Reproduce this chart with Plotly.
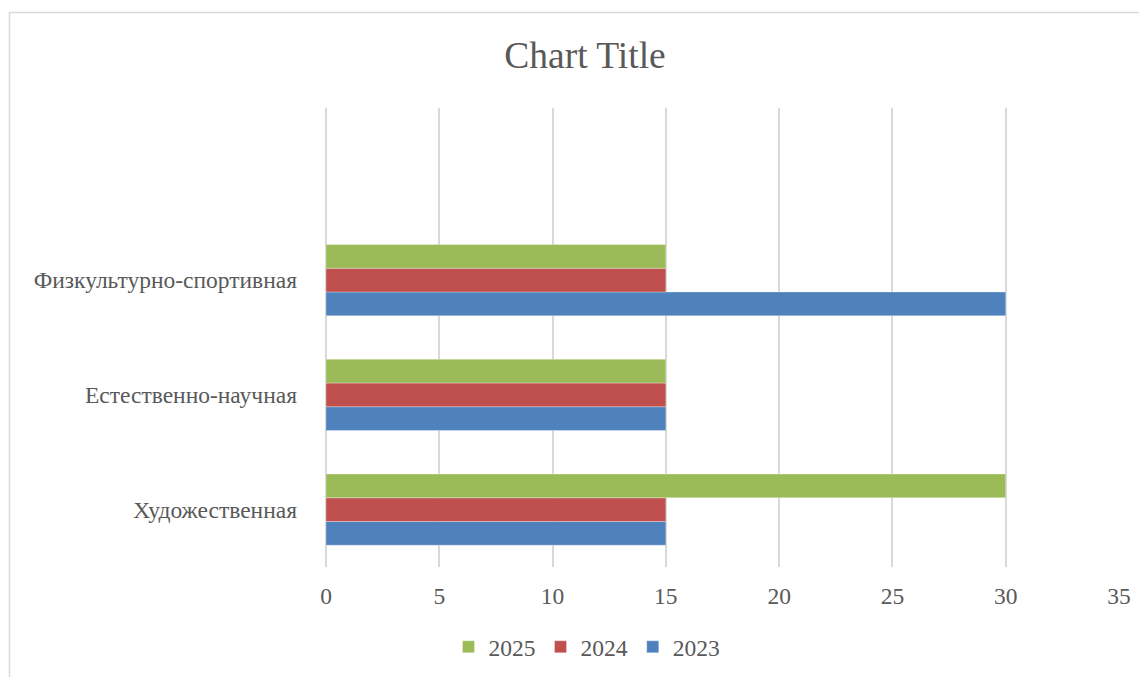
import plotly.graph_objects as go

categories = ["Художественная", "Естественно-научная", "Физкультурно-спортивная"]
series_names = ["2023", "2024", "2025"]
values_2023 = [15, 15, 30]
values_2024 = [15, 15, 15]
values_2025 = [30, 15, 15]
colors = ["#4F81BD", "#C0504D", "#9BBB59"]
x_ticks = [0, 5, 10, 15, 20, 25, 30, 35]

OFF = 8  # page body margin
W, H = 1147 - OFF, 677 - OFF
L, R, T, B = 326 - OFF, 28, 108 - OFF, 110
pw, ph = W - L - R, H - T - B

positions = list(range(len(categories)))
fig = go.Figure()
for name, vals, col in zip(series_names, [values_2023, values_2024, values_2025], colors):
    fig.add_trace(go.Bar(
        x=vals, y=positions, orientation="h", name=name,
        marker=dict(color=col, line=dict(color="rgba(255,255,255,0.5)", width=0.6)),
    ))

font_family = "Liberation Serif, Times New Roman, serif"
fig.update_layout(
    width=W, height=H,
    margin=dict(l=L, r=R, t=T, b=B, autoexpand=False),
    paper_bgcolor="white", plot_bgcolor="white",
    barmode="group", bargap=0.38, bargroupgap=0,
    font=dict(family=font_family, color="#595959", size=23.5),
    title=dict(text="Chart Title", x=(585 - OFF) / W, xanchor="center",
               y=1 - (55 - OFF) / H, yanchor="middle",
               font=dict(size=37.5, family=font_family, color="#595959")),
    legend=dict(orientation="h", x=(587 - 326) / pw, xanchor="center",
                y=(677 - 110 - 647) / ph, yanchor="middle",
                traceorder="reversed", font=dict(size=23.5),
                itemwidth=30, bgcolor="rgba(0,0,0,0)"),
    xaxis=dict(range=[0, 35], tickvals=x_ticks, showgrid=True,
               gridcolor="#D9D9D9", gridwidth=1.5, zeroline=True,
               zerolinecolor="#D9D9D9", zerolinewidth=1.5,
               showline=False, ticks="", ticklabelstandoff=12,
               tickfont=dict(size=23.5, color="#595959")),
    yaxis=dict(range=[-0.5, 3.5], tickvals=positions, ticktext=categories,
               showgrid=False, zeroline=False, showline=False, ticks="",
               ticklabelstandoff=28, tickfont=dict(size=23.5, color="#595959")),
    shapes=[dict(type="rect", xref="paper", yref="paper",
                 x0=(9.5 - 326) / pw, x1=(1146 - 326) / pw,
                 y0=(567 - 700) / ph, y1=(567 - 12.5) / ph,
                 line=dict(color="#D9D9D9", width=1.5), fillcolor="rgba(0,0,0,0)",
                 layer="below")],
)

fig.write_html("out.html")
